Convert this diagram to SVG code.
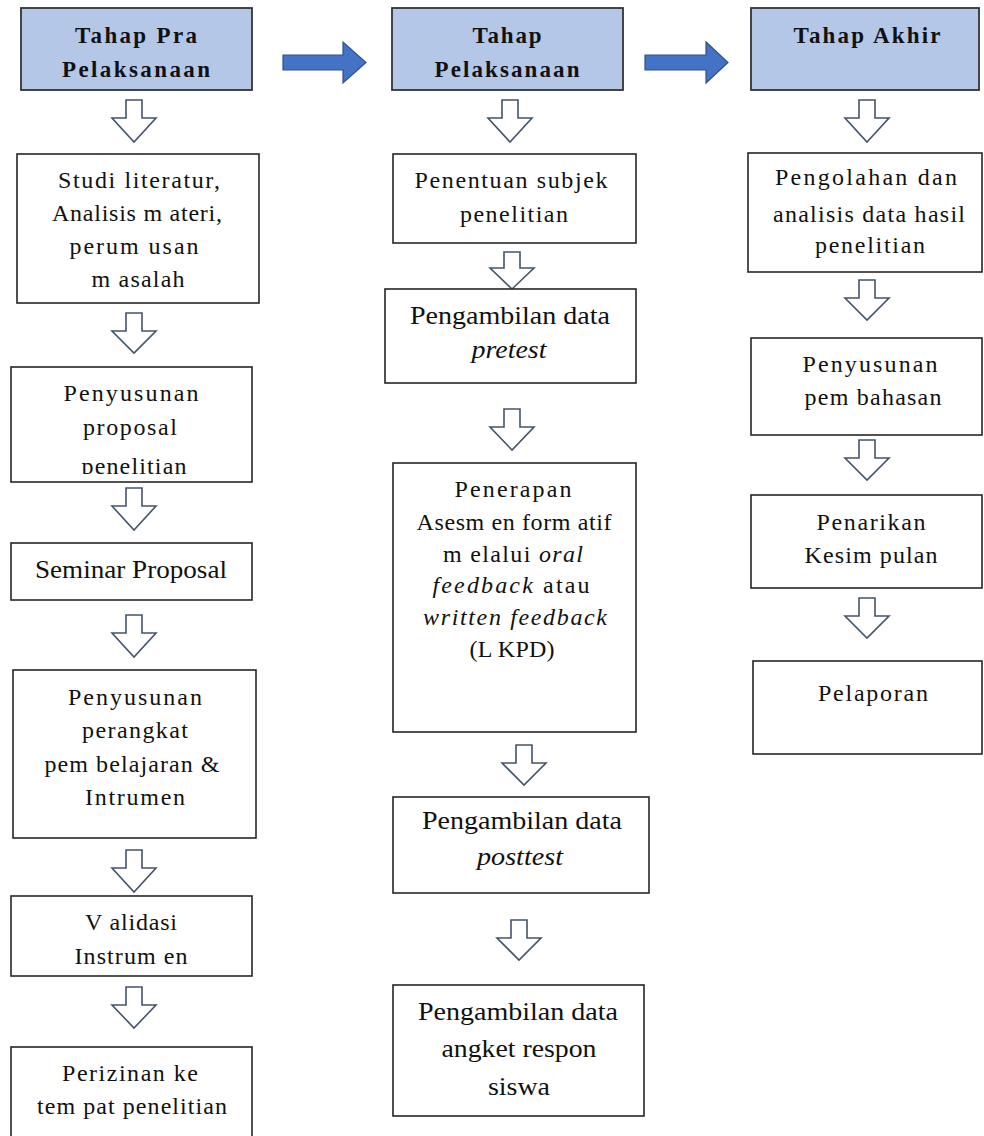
<svg xmlns="http://www.w3.org/2000/svg" width="984" height="1136" viewBox="0 0 984 1136">
<style>
.box{fill:#fff;stroke:#262626;stroke-width:1.6}
.hdr{fill:#b4c7e7;stroke:#333;stroke-width:1.8}
.t{font-family:"Liberation Serif","Times New Roman",serif;font-size:24px;fill:#111;text-anchor:middle}
.n{font-size:25px}
.h{font-weight:bold;font-size:23px}
.i{font-style:italic}
.ha{fill:#fff;stroke:#44546a;stroke-width:1.6;stroke-linejoin:miter}
.big{fill:#4472c4;stroke:#2f528f;stroke-width:1.2}
</style>
<defs>
<clipPath id="clipB"><rect x="0" y="360" width="300" height="114"/></clipPath>
</defs>
<rect width="984" height="1136" fill="#fff"/>

<g id="connectors">
<path class="big" d="M283,55 H343 V42 L366,62.5 L343,83 V70 H283 Z"/>
<path class="big" d="M645,55 H706 V42 L728,62.5 L706,83 V70 H645 Z"/>
<path class="ha" d="M126,100 H142 V118 H156 L134,142 L112,118 H126 Z"/>
<path class="ha" d="M126,313 H142 V331 H156 L134,353 L112,331 H126 Z"/>
<path class="ha" d="M126,488 H142 V506 H156 L134,530 L112,506 H126 Z"/>
<path class="ha" d="M126,615 H142 V633 H156 L134,657 L112,633 H126 Z"/>
<path class="ha" d="M126,850 H142 V868 H156 L134,892 L112,868 H126 Z"/>
<path class="ha" d="M126,987 H142 V1005 H156 L134,1028 L112,1005 H126 Z"/>
<path class="ha" d="M502,100 H518 V118 H532 L510,142 L488,118 H502 Z"/>
<path class="ha" d="M504,252 H520 V268 H534 L512,289 L490,268 H504 Z"/>
<path class="ha" d="M504,409 H520 V427 H534 L512,450 L490,427 H504 Z"/>
<path class="ha" d="M516,745 H532 V763 H546 L524,785 L502,763 H516 Z"/>
<path class="ha" d="M511,920 H527 V938 H541 L519,960 L497,938 H511 Z"/>
<path class="ha" d="M859,100 H875 V118 H889 L867,142 L845,118 H859 Z"/>
<path class="ha" d="M859,280 H875 V298 H889 L867,320 L845,298 H859 Z"/>
<path class="ha" d="M859,440 H875 V458 H889 L867,480 L845,458 H859 Z"/>
<path class="ha" d="M859,598 H875 V616 H889 L867,638 L845,616 H859 Z"/>
</g>

<g id="h1">
<rect class="hdr" x="21" y="8" width="231" height="82"/>
<text class="t h" x="136" y="43" textLength="122" lengthAdjust="spacing">Tahap Pra</text>
<text class="t h" x="136" y="77" textLength="148" lengthAdjust="spacing">Pelaksanaan</text>
</g>
<g id="h2">
<rect class="hdr" x="392" y="8" width="231" height="82"/>
<text class="t h" x="507" y="43" textLength="69" lengthAdjust="spacing">Tahap</text>
<text class="t h" x="507" y="77" textLength="145" lengthAdjust="spacing">Pelaksanaan</text>
</g>
<g id="h3">
<rect class="hdr" x="751" y="8" width="228" height="82"/>
<text class="t h" x="867" y="43" textLength="147" lengthAdjust="spacing">Tahap Akhir</text>
</g>

<g id="a1">
<rect class="box" x="17" y="154" width="242" height="149"/>
<text class="t" x="139" y="188" textLength="162" lengthAdjust="spacing">Studi literatur,</text>
<text class="t" x="137" y="221" textLength="170" lengthAdjust="spacing">Analisis m ateri,</text>
<text class="t" x="134" y="254" textLength="129" lengthAdjust="spacing">perum usan</text>
<text class="t" x="138" y="287" textLength="93" lengthAdjust="spacing">m asalah</text>
</g>
<g id="a2">
<rect class="box" x="11" y="367" width="241" height="115"/>
<text class="t" x="131" y="401" textLength="135" lengthAdjust="spacing">Penyusunan</text>
<text class="t" x="130" y="435" textLength="94" lengthAdjust="spacing">proposal</text>
<text class="t" x="134" y="474" textLength="105" lengthAdjust="spacing" clip-path="url(#clipB)">penelitian</text>
</g>
<g id="a3">
<rect class="box" x="11" y="543" width="241" height="57"/>
<text class="t n" x="131" y="578" textLength="192" lengthAdjust="spacingAndGlyphs">Seminar Proposal</text>
</g>
<g id="a4">
<rect class="box" x="13" y="670" width="243" height="168"/>
<text class="t" x="135" y="705" textLength="134" lengthAdjust="spacing">Penyusunan</text>
<text class="t" x="135" y="738" textLength="106" lengthAdjust="spacing">perangkat</text>
<text class="t" x="132" y="772" textLength="175" lengthAdjust="spacing">pem belajaran &amp;</text>
<text class="t" x="135" y="805" textLength="100" lengthAdjust="spacing">Intrumen</text>
</g>
<g id="a5">
<rect class="box" x="11" y="896" width="241" height="80"/>
<text class="t" x="131" y="930" textLength="92" lengthAdjust="spacing">V alidasi</text>
<text class="t" x="131" y="964" textLength="113" lengthAdjust="spacing">Instrum en</text>
</g>
<g id="a6">
<rect class="box" x="11" y="1047" width="241" height="100"/>
<text class="t" x="130" y="1081" textLength="136" lengthAdjust="spacing">Perizinan ke</text>
<text class="t" x="132" y="1114" textLength="190" lengthAdjust="spacing">tem pat penelitian</text>
</g>

<g id="b1">
<rect class="box" x="393" y="154" width="243" height="89"/>
<text class="t" x="511" y="188" textLength="193" lengthAdjust="spacing">Penentuan subjek</text>
<text class="t" x="514" y="222" textLength="108" lengthAdjust="spacing">penelitian</text>
</g>
<g id="b2">
<rect class="box" x="385" y="289" width="251" height="94"/>
<text class="t n" x="510" y="324" textLength="200" lengthAdjust="spacingAndGlyphs">Pengambilan data</text>
<text class="t n i" x="509" y="358" textLength="75" lengthAdjust="spacingAndGlyphs">pretest</text>
</g>
<g id="b3">
<rect class="box" x="393" y="463" width="243" height="269"/>
<text class="t" x="513" y="497" textLength="117" lengthAdjust="spacing">Penerapan</text>
<text class="t" x="514" y="530" textLength="195" lengthAdjust="spacing">Asesm en form atif</text>
<text class="t" x="513" y="562" textLength="140" lengthAdjust="spacing">m elalui <tspan class="i">oral</tspan></text>
<text class="t" x="511" y="593" textLength="157" lengthAdjust="spacing"><tspan class="i">feedback</tspan> atau</text>
<text class="t i" x="515" y="625" textLength="184" lengthAdjust="spacing">written feedback</text>
<text class="t" x="512" y="657" textLength="85" lengthAdjust="spacing">(L KPD)</text>
</g>
<g id="b4">
<rect class="box" x="393" y="797" width="256" height="96"/>
<text class="t n" x="522" y="829" textLength="200" lengthAdjust="spacingAndGlyphs">Pengambilan data</text>
<text class="t n i" x="520" y="865" textLength="86" lengthAdjust="spacingAndGlyphs">posttest</text>
</g>
<g id="b5">
<rect class="box" x="393" y="985" width="251" height="131"/>
<text class="t n" x="518" y="1020" textLength="200" lengthAdjust="spacingAndGlyphs">Pengambilan data</text>
<text class="t n" x="519" y="1057" textLength="155" lengthAdjust="spacingAndGlyphs">angket respon</text>
<text class="t n" x="519" y="1095" textLength="62" lengthAdjust="spacingAndGlyphs">siswa</text>
</g>

<g id="c1">
<rect class="box" x="748" y="153" width="234" height="119"/>
<text class="t" x="866" y="185" textLength="182" lengthAdjust="spacing">Pengolahan dan</text>
<text class="t" x="869" y="222" textLength="192" lengthAdjust="spacing">analisis data hasil</text>
<text class="t" x="870" y="253" textLength="110" lengthAdjust="spacing">penelitian</text>
</g>
<g id="c2">
<rect class="box" x="751" y="338" width="231" height="97"/>
<text class="t" x="870" y="372" textLength="135" lengthAdjust="spacing">Penyusunan</text>
<text class="t" x="873" y="405" textLength="137" lengthAdjust="spacing">pem bahasan</text>
</g>
<g id="c3">
<rect class="box" x="751" y="495" width="231" height="93"/>
<text class="t" x="871" y="530" textLength="109" lengthAdjust="spacing">Penarikan</text>
<text class="t" x="871" y="563" textLength="133" lengthAdjust="spacing">Kesim pulan</text>
</g>
<g id="c4">
<rect class="box" x="753" y="661" width="229" height="93"/>
<text class="t" x="873" y="701" textLength="110" lengthAdjust="spacing">Pelaporan</text>
</g>
</svg>
